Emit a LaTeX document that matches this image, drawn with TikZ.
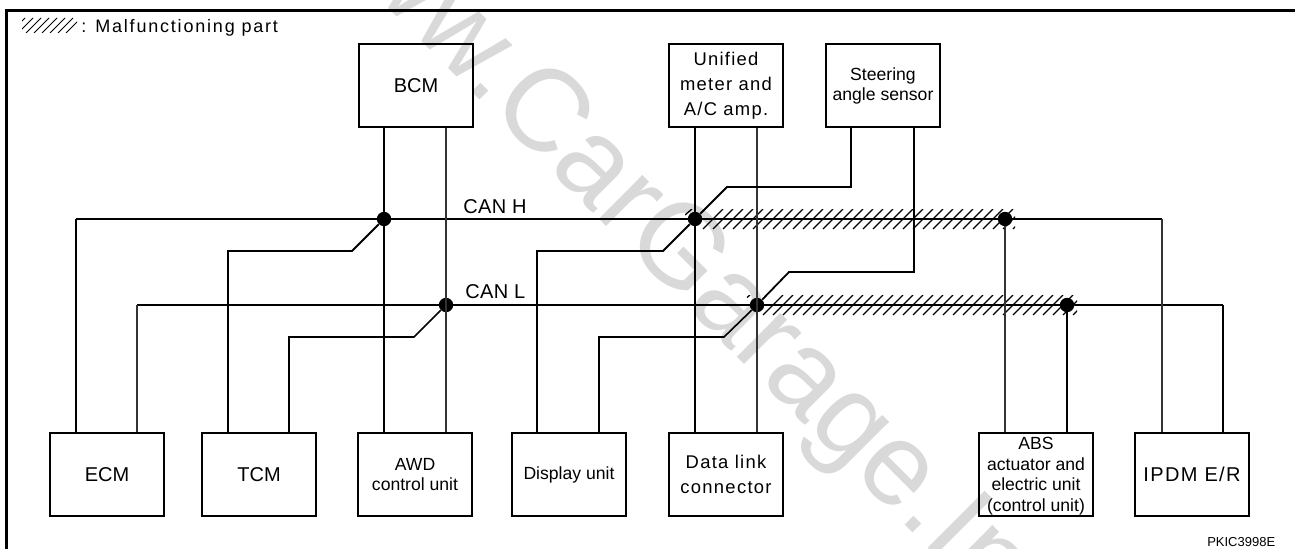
\documentclass[tikz,border=0pt]{standalone}
\usepackage{fontspec}
\setmainfont{Liberation Sans}
\newcommand{\fs}[2]{\fontsize{#1}{#2}\selectfont}
\newcommand{\trk}{\addfontfeatures{LetterSpace=7}}
\definecolor{wm}{gray}{0.85}
\definecolor{thinline}{gray}{0.2}
\tikzset{
  unit/.style={draw=black,line width=1.2pt,minimum width=85.5pt,minimum height=62.25pt,inner sep=0pt,align=center,fill=none},
  big/.style={font=\fs{15}{18}},
  small/.style={font=\fs{13.2}{15}},
  wide/.style={font=\fs{13.8}{18.7}\trk},
  dot/.style={circle,fill=black,draw=none,minimum size=10.8pt,inner sep=0pt},
  wireA/.style={line width=1.35pt,black},
  wireB/.style={line width=1pt,thinline},
  wireC/.style={line width=1.2pt,black},
  hatchline/.style={line width=0.95pt,black},
  label/.style={inner sep=0pt,anchor=base west},
}
\begin{document}
\begin{tikzpicture}[x=0.75pt,y=-0.75pt]
\useasboundingbox (0,0) rectangle (1295,549);
% watermark
\begin{scope}
\clip (0,0) rectangle (1295,549);
\node[rotate=-45,anchor=base west,inner sep=0pt,text=wm,font=\fs{87.75}{90}] (mark) at (290,-90) {www.CarGarage.In};
\end{scope}
% frame
\coordinate (ftr) at (1295,10.5);
\coordinate (ftl) at (6,10.5);
\coordinate (fbl) at (6,549);
\draw[line width=2.25pt,line join=miter] (ftr) -- (ftl) -- (fbl);
% boxes
\node[unit,big] (bcm) at (416,85.5) {BCM};
\node[unit,wide] (uni) at (726,85.5) {Unified\\meter and\\A/C amp.};
\node[unit,font=\fs{13.2}{15}] (steer) at (883,85.5) {Steering\\angle sensor};
\node[unit,big] (ecm) at (107,474.5) {ECM};
\node[unit,big] (tcm) at (259,474.5) {TCM};
\node[unit,small] (awd) at (415,474.5) {AWD\\control unit};
\node[unit,small] (disp) at (569,474.5) {Display unit};
\node[unit,wide] (dlc) at (726,474.5) {Data link\\connector};
\node[unit,font=\fs{13.2}{15.4}] (abs) at (1036,474.5) {\rule{0pt}{12pt}ABS\\actuator and\\electric unit\\(control unit)};
\node[unit,font=\fs{15}{18}\trk] (ipdm) at (1192,474.5) {IPDM E/R};
% junctions
\node[dot] (j1) at (384,219) {};
\node[dot] (j2) at (446,305) {};
\node[dot] (j3) at (695,219) {};
\node[dot] (j4) at (757,305) {};
\node[dot] (j5) at (1005,219) {};
\node[dot] (j6) at (1067,305) {};
% free corners
\coordinate (hl) at (76,219);
\coordinate (hr) at (1162,219);
\coordinate (ll) at (137,305);
\coordinate (lr) at (1223,305);
\coordinate (t1) at (228,251);
\coordinate (t2) at (352,251);
\coordinate (t3) at (289,337);
\coordinate (t4) at (414,337);
\coordinate (d1) at (537,251);
\coordinate (d2) at (663,251);
\coordinate (d3) at (599,337);
\coordinate (d4) at (724,337);
\coordinate (s1) at (727,187);
\coordinate (s2) at (851,187);
\coordinate (s3) at (789,272);
\coordinate (s4) at (914,272);
% hatching
\begin{scope}
\clip (685,209) rectangle (1015,229);
\foreach \k in {3,...,35}{\draw[hatchline] ({673+10*\k},229) -- ({693+10*\k},209);}
\draw[hatchline] (685,215) -- (692,209);
\end{scope}
\begin{scope}
\clip (746,295) rectangle (1077,315);
\foreach \k in {3,...,35}{\draw[hatchline] ({733+10*\k},315) -- ({753+10*\k},295);}
\draw[hatchline] (747,297.5) -- (750,295);
\end{scope}
\begin{scope}
\clip (22,18) rectangle (77,33);
\foreach \k in {0,...,7}{\draw[line width=0.7pt] ({10+8*\k},33) -- ({25+8*\k},18);}
\end{scope}
% buses
\draw[wireA] (hl) -- (hr);
\draw[wireA] (ll) -- (lr);
% connectors
\draw[wireA] (ecm.north -| hl) -- (hl);
\draw[wireB] (ecm.north -| ll) -- (ll);
\draw[wireA] (tcm.north -| t1) -- (t1) -- (t2) -- (j1);
\draw[wireC] (tcm.north -| t3) -- (t3) -- (t4) -- (j2);
\draw[wireA] (bcm.south -| j1) -- (awd.north -| j1);
\draw[wireB] (bcm.south -| j2) -- (awd.north -| j2);
\draw[wireA] (disp.north -| d1) -- (d1) -- (d2) -- (j3);
\draw[wireC] (disp.north -| d3) -- (d3) -- (d4) -- (j4);
\draw[wireA] (uni.south -| j3) -- (dlc.north -| j3);
\draw[wireB] (uni.south -| j4) -- (dlc.north -| j4);
\draw[wireA] (j3) -- (s1) -- (s2) -- (steer.south -| s2);
\draw[wireA] (j4) -- (s3) -- (s4) -- (steer.south -| s4);
\draw[wireB] (j5) -- (abs.north -| j5);
\draw[wireA] (j6) -- (abs.north -| j6);
\draw[wireB] (hr) -- (ipdm.north -| hr);
\draw[wireA] (lr) -- (ipdm.north -| lr);
% labels
\node[label,font=\fs{13.5}{16}\addfontfeatures{LetterSpace=10}] (legend) at (81,33) {: Malfunctioning part};
\node[label,font=\fs{15}{18}\addfontfeatures{LetterSpace=2}] (canh) at (463,213) {CAN H};
\node[label,font=\fs{15}{18}\addfontfeatures{LetterSpace=2}] (canl) at (465,298) {CAN L};
\node[label,font=\fs{9.75}{12}] (code) at (1207,546) {PKIC3998E};
\end{tikzpicture}
\end{document}
